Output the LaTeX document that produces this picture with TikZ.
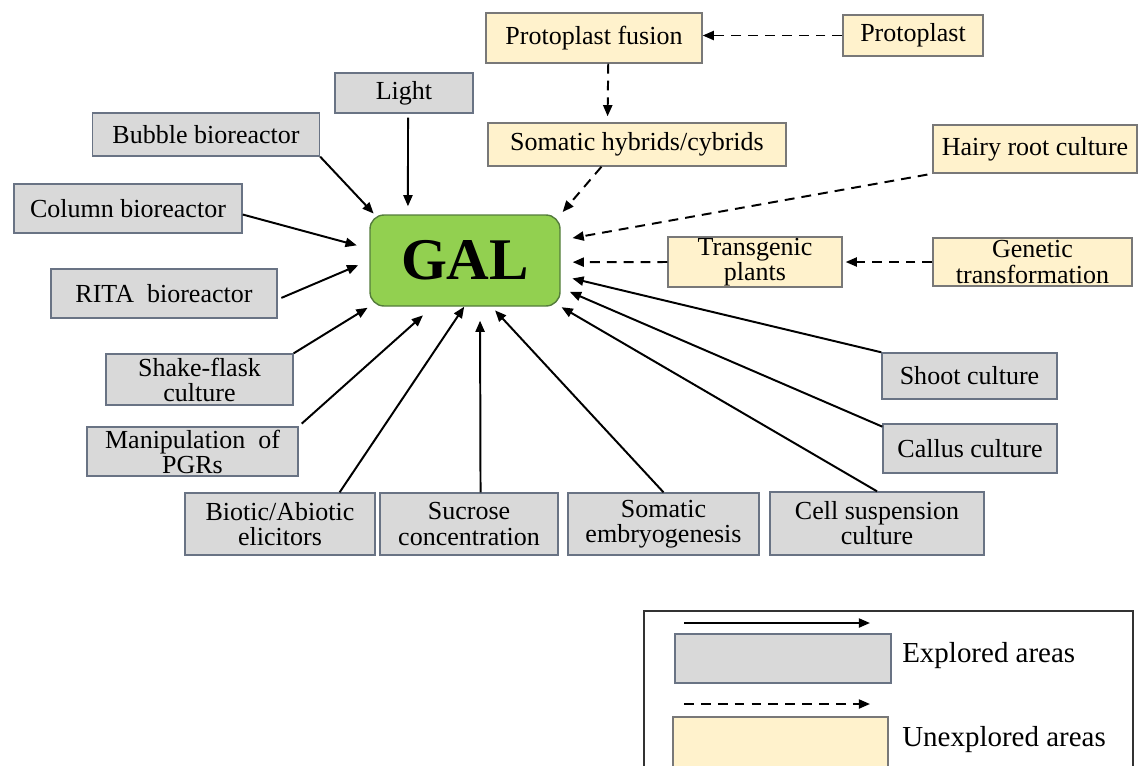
\documentclass[tikz,border=0pt]{standalone}
\usepackage{fontspec}
\setmainfont{Liberation Serif}
\usetikzlibrary{arrows.meta}
\definecolor{boxgray}{RGB}{217,217,217}
\definecolor{edgegray}{RGB}{105,115,132}
\definecolor{boxyellow}{RGB}{255,242,204}
\definecolor{edgeyellow}{RGB}{120,120,120}
\definecolor{galgreen}{RGB}{146,208,80}
\definecolor{galedge}{RGB}{84,124,60}
\newlength\pxu
\setlength\pxu{0.025cm}
\tikzset{
  explored/.style={draw=edgegray, fill=boxgray, line width=1pt, align=center,
    inner sep=0pt, font=\fontsize{18.5}{17.8}\selectfont},
  unexplored/.style={explored, draw=edgeyellow, fill=boxyellow},
  sz/.style 2 args={minimum width=#1\pxu, minimum height=#2\pxu},
  arr/.style={-{Triangle[length=8pt,width=6.5pt]}, line width=1.4pt},
  darr/.style={arr, dash pattern=on 7pt off 5pt},
  keytext/.style={anchor=west, inner sep=0pt, font=\fontsize{20.6}{22}\selectfont},
}
\begin{document}
\begin{tikzpicture}[x=0.025cm,y=-0.025cm]
\useasboundingbox (0,0) rectangle (1139,765);

% explored areas
\node[explored, sz={138}{40}] (light) at (404,93) {Light};
\node[explored, sz={227}{43}] (bubble) at (206,134.5) {Bubble bioreactor};
\node[explored, sz={228}{49}] (column) at (128,208.5) {Column bioreactor};
\node[explored, sz={226}{49}] (rita) at (164,293.5) {RITA\ \ bioreactor};
\node[explored, sz={187}{51}] (shake) at (199.5,379.5) {Shake-flask\\culture};
\node[explored, sz={211}{49}] (manip) at (192.5,451.5) {Manipulation\ \ of\\PGRs};
\node[explored, sz={190}{62}] (biotic) at (280,524) {Biotic/Abiotic\\elicitors};
\node[explored, sz={178}{62}] (sucrose) at (469,524) {Sucrose\\concentration};
\node[explored, sz={191}{62}] (somemb) at (663.5,524) {Somatic\\embryogenesis};
\node[explored, sz={214}{63}] (cellsusp) at (877,523.5) {Cell suspension\\culture};
\node[explored, sz={174}{49}] (callus) at (970,448.5) {Callus culture};
\node[explored, sz={175}{46}] (shoot) at (969.5,376) {Shoot culture};

% unexplored areas
\node[unexplored, sz={216}{50}] (fusion) at (594,38) {Protoplast fusion};
\node[unexplored, sz={140}{41}] (protoplast) at (913,35.5) {Protoplast};
\node[unexplored, sz={298}{43}] (hybrids) at (637,144.5) {Somatic hybrids/cybrids};
\node[unexplored, sz={204}{48}] (hairy) at (1035,149) {Hairy\ root culture};
\node[unexplored, sz={174}{50}] (transgenic) at (755,262) {Transgenic\\plants};
\node[unexplored, sz={199}{48}] (genetic) at (1032.5,262) {Genetic\\transformation};

% centre
\node[draw=galedge, fill=galgreen, rounded corners=10pt, line width=1pt, sz={190}{91},
  font=\fontsize{42}{42}\bfseries\selectfont] (gal) at (465,260.5) {GAL};

% explored arrows
\draw[arr, shorten <=4\pxu, shorten >=8\pxu] (light.-79) -- (gal.141);
\draw[arr, shorten >=1\pxu] (bubble.south east) -- (gal.153);
\draw[arr, shorten >=13\pxu] (column.-3) -- (gal.173);
\draw[arr, shorten <=4\pxu, shorten >=12\pxu] (rita.-3) -- (gal.180);
\draw[arr, shorten >=2\pxu] (shake.north east) -- (gal.south west);
\draw[arr, shorten <=4\pxu, shorten >=13\pxu] (manip.north east) -- (gal.235);
\draw[arr] (biotic.28) -- (gal.269);
\draw[arr, shorten >=14\pxu] (sucrose.70) -- (gal.288);
\draw[arr, shorten >=5\pxu] (somemb.north) -- (gal.300);
\draw[arr, shorten >=1\pxu] (cellsusp.north) -- (gal.south east);
\draw[arr, shorten >=10\pxu] (callus.166) -- (gal.-16);
\draw[arr, shorten >=12\pxu] (shoot.north west) -- (gal.-9);

% unexplored arrows
\draw[darr] (protoplast.west) -- (protoplast.west -| fusion.east);
\draw[darr, shorten >=6\pxu] (fusion.-61) -- (hybrids.143);
\draw[darr, shorten >=3\pxu] (hybrids.212) -- (gal.north east);
\draw[darr, shorten <=5\pxu, shorten >=12\pxu] (hairy.south west) -- (gal.12);
\draw[darr, shorten >=3\pxu] (genetic.west) -- (transgenic.east);
\draw[darr, shorten >=12\pxu] (transgenic.west) -- (gal.-1);

% legend
\draw[line width=1pt, draw=black!80] (644,775) -- (644,611) -- (1133,611) -- (1133,775);
\coordinate (s1) at (684,623);
\coordinate (e1) at (870,623);
\coordinate (s2) at (684,704);
\coordinate (e2) at (870,704);
\draw[arr] (s1) -- (e1);
\draw[darr] (s2) -- (e2);
\node[explored, sz={216}{49}] (keygray) at (783,658.5) {};
\node[unexplored, sz={215}{58}] (keyyellow) at (780.5,746) {};
\node[keytext] (keyex) at (902,656) {Explored areas};
\node[keytext] (keyun) at (902,740) {Unexplored areas};

\end{tikzpicture}
\end{document}
